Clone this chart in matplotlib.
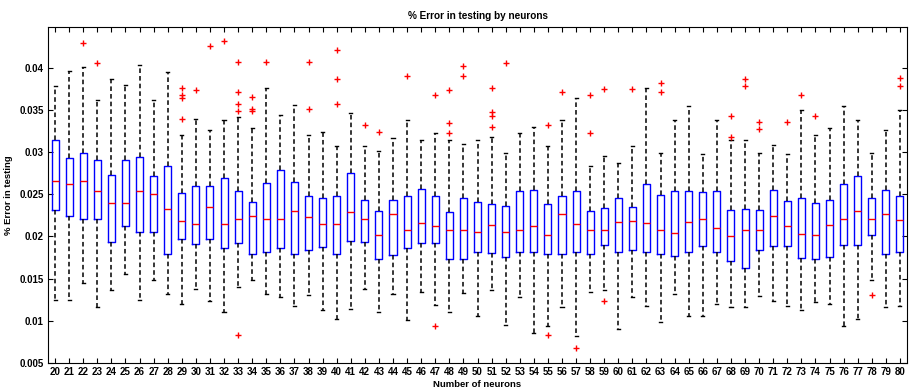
import matplotlib
matplotlib.use("Agg")
import matplotlib.pyplot as plt

# Number of hidden neurons tested
neurons = list(range(20, 81))

# Five-number summaries per network size (whisker ends, quartiles, median)
whisker_low = [0.0125, 0.0125, 0.0145, 0.0116, 0.0136, 0.0155, 0.0125, 0.0148, 0.0132, 0.0120,
               0.0138, 0.0123, 0.0110, 0.0140, 0.0148, 0.0132, 0.0128, 0.0118, 0.0130, 0.0113,
               0.0102, 0.0114, 0.0138, 0.0110, 0.0132, 0.0101, 0.0134, 0.0119, 0.0110, 0.0133,
               0.0106, 0.0136, 0.0095, 0.0128, 0.0085, 0.0094, 0.0116, 0.0082, 0.0134, 0.0136,
               0.0090, 0.0128, 0.0118, 0.0098, 0.0132, 0.0106, 0.0106, 0.0120, 0.0116, 0.0116,
               0.0129, 0.0124, 0.0118, 0.0113, 0.0122, 0.0120, 0.0094, 0.0102, 0.0148, 0.0116,
               0.0118]
q1 = [0.0231, 0.0224, 0.0221, 0.0221, 0.0193, 0.0212, 0.0205, 0.0205, 0.0179, 0.0197,
      0.0191, 0.0197, 0.0186, 0.0192, 0.0179, 0.0181, 0.0186, 0.0179, 0.0184, 0.0187,
      0.0179, 0.0195, 0.0193, 0.0173, 0.0178, 0.0186, 0.0192, 0.0192, 0.0173, 0.0173,
      0.0181, 0.0180, 0.0175, 0.0182, 0.0181, 0.0179, 0.0179, 0.0182, 0.0179, 0.0190,
      0.0181, 0.0184, 0.0181, 0.0179, 0.0177, 0.0181, 0.0189, 0.0182, 0.0171, 0.0163,
      0.0184, 0.0188, 0.0188, 0.0174, 0.0173, 0.0175, 0.0190, 0.0190, 0.0202, 0.0179,
      0.0181]
median = [0.0266, 0.0262, 0.0266, 0.0254, 0.0240, 0.0240, 0.0254, 0.0250, 0.0233, 0.0218,
          0.0215, 0.0235, 0.0215, 0.0220, 0.0224, 0.0220, 0.0220, 0.0230, 0.0223, 0.0215,
          0.0215, 0.0229, 0.0220, 0.0202, 0.0226, 0.0208, 0.0216, 0.0212, 0.0208, 0.0208,
          0.0205, 0.0214, 0.0205, 0.0208, 0.0212, 0.0202, 0.0226, 0.0215, 0.0208, 0.0208,
          0.0217, 0.0218, 0.0216, 0.0208, 0.0204, 0.0217, 0.0221, 0.0210, 0.0201, 0.0207,
          0.0208, 0.0224, 0.0212, 0.0203, 0.0202, 0.0213, 0.0220, 0.0230, 0.0221, 0.0226,
          0.0219]
q3 = [0.0314, 0.0293, 0.0299, 0.0291, 0.0273, 0.0291, 0.0294, 0.0271, 0.0283, 0.0251,
      0.0260, 0.0260, 0.0269, 0.0254, 0.0241, 0.0263, 0.0279, 0.0264, 0.0248, 0.0245,
      0.0248, 0.0275, 0.0243, 0.0230, 0.0243, 0.0248, 0.0256, 0.0248, 0.0229, 0.0245,
      0.0241, 0.0238, 0.0236, 0.0254, 0.0255, 0.0238, 0.0248, 0.0254, 0.0230, 0.0234,
      0.0246, 0.0235, 0.0262, 0.0249, 0.0254, 0.0254, 0.0252, 0.0254, 0.0231, 0.0233,
      0.0231, 0.0255, 0.0242, 0.0246, 0.0239, 0.0243, 0.0262, 0.0271, 0.0246, 0.0255,
      0.0248]
whisker_high = [0.0378, 0.0396, 0.0401, 0.0361, 0.0386, 0.0379, 0.0403, 0.0362, 0.0395, 0.0320,
                0.0339, 0.0326, 0.0338, 0.0341, 0.0328, 0.0376, 0.0344, 0.0355, 0.0320, 0.0324,
                0.0307, 0.0346, 0.0307, 0.0301, 0.0317, 0.0338, 0.0314, 0.0322, 0.0314, 0.0309,
                0.0314, 0.0318, 0.0299, 0.0322, 0.0329, 0.0307, 0.0338, 0.0364, 0.0283, 0.0295,
                0.0287, 0.0307, 0.0376, 0.0299, 0.0338, 0.0354, 0.0297, 0.0338, 0.0314, 0.0314,
                0.0299, 0.0308, 0.0297, 0.0350, 0.0320, 0.0328, 0.0354, 0.0338, 0.0299, 0.0326,
                0.0350]
outliers = [[], [], [0.0429], [0.0405], [], [], [], [], [], [0.0376, 0.0368, 0.0364, 0.0339],
            [0.0373], [0.0425], [0.0431], [0.0407, 0.0371, 0.0357, 0.0348, 0.0083],
            [0.0365, 0.0351, 0.0348], [0.0406], [], [], [0.0406, 0.0351], [],
            [0.0421, 0.0386, 0.0357], [], [0.0332], [0.0324], [], [0.0390], [], [0.0368, 0.0094],
            [0.0373, 0.0334, 0.0322], [0.0402, 0.0390],
            [], [0.0376, 0.0347, 0.0343, 0.0330], [0.0405], [], [], [0.0332, 0.0083], [0.0371],
            [0.0068], [0.0367, 0.0322], [0.0374, 0.0123],
            [], [0.0374], [], [0.0382, 0.0371], [], [], [], [], [0.0343, 0.0318], [0.0386, 0.0378],
            [0.0335, 0.0327], [], [0.0335], [0.0367], [0.0343], [], [], [], [0.0130], [],
            [0.0387, 0.0378]]

yticks = [0.005, 0.01, 0.015, 0.02, 0.025, 0.03, 0.035, 0.04]
ytick_labels = ["0.005", "0.01", "0.015", "0.02", "0.025", "0.03", "0.035", "0.04"]

plt.rcParams["font.family"] = ["Liberation Sans", "DejaVu Sans"]
plt.rcParams["font.weight"] = "bold"

fig = plt.figure(figsize=(9.11, 3.91), dpi=100)
ax = fig.add_axes([0.0527, 0.0716, 0.9429, 0.8594])

stats = []
for i, n in enumerate(neurons):
    stats.append(dict(whislo=whisker_low[i], q1=q1[i], med=median[i], q3=q3[i],
                      whishi=whisker_high[i], fliers=outliers[i], label=str(n)))

ax.bxp(stats, positions=list(range(1, len(neurons) + 1)), widths=0.5,
       capwidths=0.22, showfliers=True,
       boxprops=dict(color="#0000ff", linewidth=1.0),
       medianprops=dict(color="#ff0000", linewidth=1.0),
       whiskerprops=dict(color="black", linestyle=(0, (3, 2)), linewidth=1.1),
       capprops=dict(color="black", linewidth=1.0),
       flierprops=dict(marker="+", markeredgecolor="#ff0000", markersize=4,
                       markeredgewidth=1.0, linestyle="none"))

ax.set_xlim(0.5, len(neurons) + 0.5)
ax.set_ylim(0.005, 0.0448)
ax.set_yticks(yticks)
ax.set_yticklabels(ytick_labels)
ax.tick_params(axis="both", direction="in", top=True, right=True, length=3.5,
               width=0.8, labelsize=7, pad=3)
for lab in ax.get_xticklabels() + ax.get_yticklabels():
    lab.set_fontweight("bold")
for sp in ax.spines.values():
    sp.set_linewidth(0.8)

ax.set_title("% Error in testing by neurons", fontsize=7.2, fontweight="bold", pad=6)
ax.set_xlabel("Number of neurons", fontsize=6.8, fontweight="bold", labelpad=2)
ax.set_ylabel("% Error in testing", fontsize=6.8, fontweight="bold", labelpad=5)

fig.savefig("out.png", dpi=100)
